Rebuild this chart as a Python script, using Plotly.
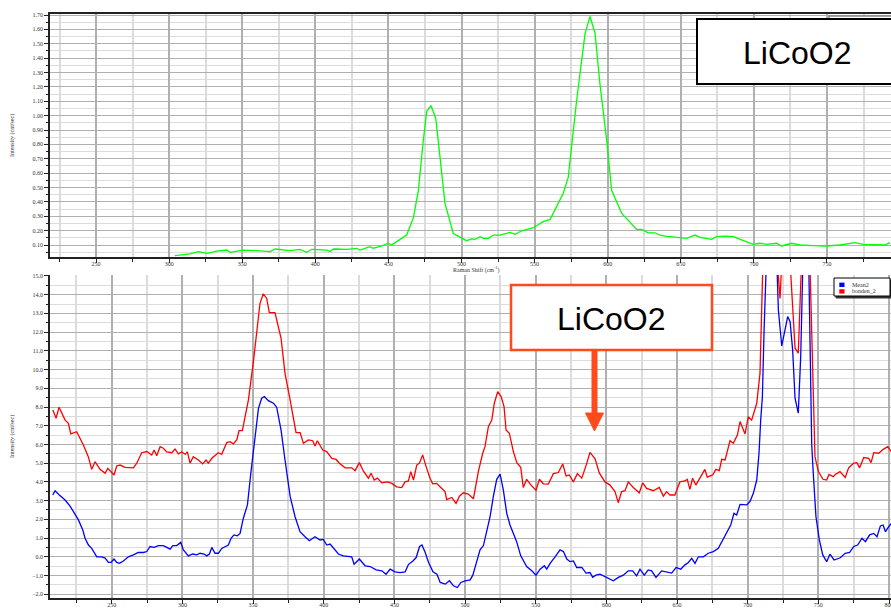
import plotly.graph_objects as go

# ---------------- top panel (green) ----------------
green_x = [304.0, 314.3, 320.0, 325.7, 332.5, 339.4, 341.7, 350.7, 360.5, 369.0, 372.4, 382.7,
           389.6, 394.1, 397.5, 407.7, 410.0, 412.4, 421.5, 428.3, 430.5, 437.4, 439.6, 445.4,
           449.9, 452.2, 458.0, 462.5, 467.1, 470.5, 473.9, 476.2, 479.1, 482.4, 485.3, 488.7,
           494.4, 503.5, 506.9, 509.3, 512.7, 515.0, 518.4, 521.8, 526.3, 533.2, 536.6, 541.2,
           549.1, 555.9, 560.6, 569.6, 573.0, 578.7, 584.5, 587.9, 591.3, 594.7, 599.3, 602.7,
           609.6, 619.8, 623.2, 627.8, 632.4, 635.8, 639.2, 643.7, 649.4, 654.0, 659.7, 663.1,
           671.1, 674.5, 680.3, 686.0, 691.6, 699.6, 704.2, 708.8, 715.6, 719.0, 725.8, 731.6,
           740.6, 749.7, 758.9, 769.1, 774.8, 784.0, 789.7, 793.1]
green_y = [0.026, 0.038, 0.054, 0.042, 0.058, 0.065, 0.049, 0.065, 0.061, 0.054, 0.072, 0.061,
           0.070, 0.049, 0.070, 0.065, 0.054, 0.072, 0.070, 0.077, 0.065, 0.088, 0.077, 0.093,
           0.112, 0.100, 0.139, 0.169, 0.29, 0.48, 0.83, 1.03, 1.07, 0.98, 0.71, 0.39,
           0.18, 0.130, 0.142, 0.139, 0.158, 0.146, 0.146, 0.169, 0.169, 0.188, 0.174, 0.199,
           0.22, 0.262, 0.278, 0.46, 0.57, 1.10, 1.57, 1.69, 1.575, 1.22, 0.83, 0.48,
           0.32, 0.209, 0.209, 0.185, 0.185, 0.169, 0.162, 0.158, 0.153, 0.146, 0.169, 0.153,
           0.139, 0.158, 0.162, 0.158, 0.135, 0.105, 0.112, 0.105, 0.112, 0.093, 0.112, 0.100,
           0.095, 0.093, 0.100, 0.116, 0.105, 0.105, 0.100, 0.116]

# ---------------- bottom panel ----------------
red_x = [208.3, 210.6, 212.7, 217.0, 219.3, 221.0, 225.2, 229.9, 233.4, 235.8, 238.2, 241.7,
         245.3, 247.2, 251.6, 253.5, 255.9, 259.4, 265.3, 267.7, 271.2, 274.8, 278.3, 280.0,
         281.8, 284.2, 286.5, 288.9, 292.5, 294.8, 297.1, 299.5, 301.9, 303.5, 305.4, 307.7,
         311.3, 314.4, 316.7, 318.4, 320.8, 323.1, 325.4, 327.8, 331.4, 333.7, 336.1, 338.5,
         340.1, 342.4, 346.7, 350.1, 354.9, 357.2, 359.6, 361.5, 365.5, 369.8, 372.6, 376.2,
         380.4, 383.3, 385.6, 389.1, 392.2, 393.8, 395.5, 399.3, 402.1, 405.7, 408.7, 411.1,
         415.1, 419.8, 422.2, 425.2, 428.1, 431.6, 433.5, 435.7, 438.0, 441.1, 445.1, 448.1,
         451.6, 455.2, 457.5, 459.9, 461.6, 463.5, 465.8, 467.7, 470.0, 472.4, 475.2, 477.1,
         479.9, 482.3, 485.8, 487.0, 490.6, 493.6, 496.0, 498.8, 502.3, 505.9, 509.4, 512.5,
         514.1, 516.5, 518.9, 520.7, 523.1, 525.5, 527.6, 529.0, 531.3, 534.2, 536.6, 539.4,
         541.2, 543.6, 546.7, 550.2, 552.6, 555.4, 558.9, 562.5, 566.0, 569.1, 571.5, 573.8,
         576.6, 579.5, 582.6, 585.6, 588.4, 592.0, 595.0, 599.0, 602.6, 606.1, 608.4, 610.8,
         613.2, 615.5, 619.0, 623.3, 625.7, 628.5, 633.2, 637.4, 640.3, 642.6, 645.0, 648.5,
         652.0, 655.6, 657.2, 659.1, 661.0, 663.3, 666.2, 669.7, 671.4, 675.2, 677.5, 679.9,
         681.6, 684.0, 687.5, 689.8, 692.7, 694.6, 698.1, 700.4, 702.8, 706.4, 708.7, 711.2,
         716.0, 720.6, 722.9, 724.8, 728.0, 729.8, 733.5, 735.8, 737.9, 741.0, 744.1, 746.5,
         747.6, 750.0, 753.3, 755.9, 757.5, 760.6, 762.0, 765.3, 769.0, 771.4, 775.0, 777.3,
         779.2, 782.1, 785.6, 787.3, 789.2, 792.7, 795.9, 799.1, 801.7]
red_y = [7.84, 7.40, 7.99, 7.30, 7.13, 6.56, 6.68, 5.97, 5.35, 4.67, 5.08, 4.67,
         4.46, 4.73, 4.37, 4.85, 4.90, 4.78, 4.75, 5.00, 5.56, 5.62, 5.44, 5.70,
         5.40, 5.88, 5.80, 5.60, 5.56, 5.76, 5.50, 5.60, 5.48, 5.60, 5.00, 5.35,
         5.17, 4.96, 5.17, 5.00, 5.26, 5.39, 5.56, 5.47, 6.10, 6.15, 6.03, 6.25,
         6.74, 6.74, 8.38, 10.34, 13.54, 14.04, 13.81, 13.04, 13.04, 11.67, 9.80, 8.38,
         6.63, 6.63, 6.06, 6.24, 6.20, 5.92, 6.20, 5.70, 5.62, 5.26, 5.20, 5.00,
         4.75, 4.75, 4.60, 5.03, 4.57, 4.20, 4.46, 4.10, 4.20, 3.95, 4.00, 3.92,
         3.74, 3.70, 4.00, 4.05, 4.55, 4.10, 4.90, 5.00, 5.44, 4.83, 4.20, 3.90,
         3.92, 3.74, 3.48, 3.06, 3.17, 2.85, 3.24, 3.42, 3.35, 3.10, 4.55, 5.53,
         5.88, 6.95, 7.30, 8.20, 8.82, 8.56, 8.02, 6.77, 6.60, 5.62, 5.03, 4.78,
         3.70, 4.14, 3.83, 3.56, 4.14, 3.90, 3.88, 4.44, 4.50, 4.96, 4.32, 4.37,
         4.00, 4.44, 4.20, 4.87, 5.58, 5.23, 4.48, 4.00, 3.83, 3.48, 2.89, 3.48,
         3.53, 4.00, 3.70, 3.42, 3.95, 3.65, 3.53, 3.70, 3.24, 3.48, 3.30, 3.30,
         4.00, 4.05, 4.14, 3.60, 4.20, 3.83, 4.20, 4.67, 4.26, 4.37, 4.67, 4.60,
         5.21, 5.17, 6.20, 6.06, 6.50, 7.22, 6.56, 7.48, 7.30, 8.20, 9.80, 17.0,
         22.0, 16.0, 13.80, 16.0, 22.0, 16.0, 11.14, 10.87, 16.0, 22.0, 15.5, 7.5,
         5.35, 4.55, 4.14, 4.10, 4.40, 4.28, 4.40, 4.55, 4.24, 4.75, 5.00, 5.03,
         4.75, 5.30, 5.26, 5.03, 5.56, 5.53, 5.74, 5.88, 5.60]

blue_x = [208.2, 209.9, 212.9, 217.0, 220.5, 224.1, 226.4, 229.5, 231.1, 233.5, 235.8, 239.4,
          242.9, 245.3, 247.6, 249.5, 251.6, 253.5, 255.4, 258.2, 261.8, 265.3, 268.8, 272.4,
          274.8, 277.1, 280.0, 283.0, 286.5, 289.0, 291.3, 293.2, 296.0, 298.8, 300.7, 304.2,
          307.3, 310.1, 312.5, 315.3, 317.2, 319.1, 320.8, 323.1, 325.5, 327.8, 330.2, 332.5,
          334.4, 336.5, 338.9, 340.8, 343.1, 346.0, 348.4, 350.9, 353.8, 356.1, 358.0, 360.8,
          364.4, 366.7, 369.8, 372.6, 376.2, 379.7, 383.2, 386.8, 389.8, 393.8, 397.4, 399.7,
          402.1, 404.5, 408.0, 410.4, 413.9, 419.8, 421.5, 425.2, 429.3, 432.8, 437.1, 441.1,
          444.1, 447.0, 450.5, 454.0, 457.6, 460.0, 463.1, 465.4, 467.8, 469.5, 471.8, 474.2,
          477.3, 480.1, 482.4, 486.0, 489.0, 491.8, 494.6, 497.0, 500.1, 503.6, 505.5, 507.8,
          510.6, 513.0, 515.3, 517.7, 520.0, 522.4, 524.8, 527.1, 529.5, 531.8, 534.2, 536.5,
          539.4, 543.6, 547.2, 550.2, 553.1, 556.1, 557.8, 560.2, 563.7, 567.2, 569.6, 572.0,
          574.3, 576.7, 579.0, 582.6, 585.6, 588.4, 590.3, 592.6, 595.5, 600.2, 604.9, 608.5,
          612.0, 615.5, 618.6, 621.4, 623.8, 626.8, 629.6, 632.0, 635.1, 639.1, 642.6, 646.2,
          649.3, 652.6, 655.6, 658.0, 660.4, 662.7, 665.1, 668.6, 672.1, 675.7, 679.2, 682.3,
          685.1, 688.0, 690.3, 692.2, 694.6, 697.0, 699.3, 701.6, 704.0, 706.4, 708.0, 709.2,
          710.4, 711.6, 712.8, 716.0, 720.5, 721.7, 724.1, 726.6, 728.3, 730.0, 731.8, 733.5,
          735.8, 737.5, 738.8, 741.0, 743.3, 745.3, 746.4, 748.3, 750.7, 753.1, 755.9, 758.2,
          761.1, 764.1, 765.5, 769.0, 772.1, 775.0, 777.8, 780.9, 783.3, 786.3, 789.2, 791.5,
          793.9, 795.8, 797.5, 799.8, 801.7]
blue_y = [3.30, 3.52, 3.30, 3.03, 2.71, 2.23, 1.97, 1.43, 0.99, 0.63, 0.45, 0.00,
          0.00, -0.07, -0.30, -0.30, -0.12, -0.30, -0.35, -0.22, 0.00, 0.10, 0.23, 0.23,
          0.28, 0.55, 0.50, 0.60, 0.60, 0.50, 0.41, 0.60, 0.60, 0.77, 0.37, 0.05,
          0.15, 0.10, 0.19, 0.15, 0.05, 0.15, 0.50, 0.19, 0.19, 0.45, 0.55, 0.63,
          0.99, 1.17, 1.12, 1.25, 2.06, 2.77, 4.46, 6.24, 7.93, 8.47, 8.56, 8.34,
          8.20, 7.99, 6.77, 5.17, 3.24, 2.14, 1.34, 1.07, 0.86, 1.07, 0.90, 0.93,
          0.63, 0.68, 0.37, 0.15, 0.05, 0.00, -0.40, -0.12, -0.48, -0.52, -0.70, -0.75,
          -0.93, -0.66, -0.80, -0.84, -0.80, -0.40, -0.22, -0.04, 0.55, 0.63, 0.23, -0.30,
          -0.80, -0.93, -1.37, -1.46, -1.28, -1.55, -1.64, -1.37, -1.28, -1.23, -0.98, -0.40,
          0.37, 0.60, 1.43, 2.14, 3.21, 4.14, 4.42, 3.56, 2.32, 1.70, 1.25, 0.81,
          0.05, -0.52, -0.75, -0.98, -0.66, -0.48, -0.66, -0.35, 0.00, 0.37, 0.28, -0.12,
          -0.26, -0.22, -0.57, -0.57, -0.87, -0.84, -1.10, -0.98, -0.93, -1.10, -1.28, -1.10,
          -0.98, -0.75, -0.75, -1.02, -0.66, -0.98, -0.70, -0.75, -1.10, -0.75, -0.80, -0.87,
          -0.57, -0.66, -0.43, -0.30, -0.08, -0.35, 0.00, 0.00, 0.19, 0.28, 0.45, 0.90,
          1.25, 1.70, 2.32, 2.23, 2.80, 2.77, 2.77, 2.95, 3.39, 4.10, 5.53, 7.30,
          8.56, 12.13, 16.0, 22.0, 16.0, 13.18, 11.26, 12.20, 12.83, 12.56, 11.05, 8.47,
          7.67, 10.69, 16.0, 22.0, 15.2, 6.00, 4.46, 2.14, 0.90, 0.10, -0.26, 0.14,
          -0.17, -0.08, -0.05, 0.19, 0.23, 0.55, 0.63, 0.99, 0.81, 1.17, 1.25, 1.07,
          1.65, 1.70, 1.34, 1.61, 1.78]

series_names = ["Mean2", "bonden_2"]
series_colors = ["#0000ff", "#ff0000"]
annot_text = "LiCoO2"

W, H = 891, 610
TICKFONT = dict(family="Liberation Serif", size=6, color="#333333")
MAJOR_GRID = "#b0b0b0"
MINOR_GRID = "#dcdcdc"
ORANGE = "#ff4a1c"

fig = go.Figure()
fig.add_trace(go.Scatter(x=green_x, y=green_y, mode="lines", line=dict(color="#00ff00", width=1.3),
                         xaxis="x", yaxis="y", showlegend=False))
fig.add_trace(go.Scatter(x=blue_x, y=blue_y, mode="lines", line=dict(color=series_colors[0], width=1.3),
                         xaxis="x2", yaxis="y2", showlegend=False, name=series_names[0]))
fig.add_trace(go.Scatter(x=red_x, y=red_y, mode="lines", line=dict(color=series_colors[1], width=1.3),
                         xaxis="x2", yaxis="y2", showlegend=False, name=series_names[1]))


def px(x):
    return x / W


def py(y):
    return (H - y) / H


def xaxis_common(rng, domain):
    return dict(range=rng, domain=domain, dtick=50, tick0=0, showgrid=True, gridcolor=MAJOR_GRID,
                gridwidth=1.5, zeroline=False, showline=True, linecolor="#222222", linewidth=1.5,
                ticks="outside", ticklen=4, tickcolor="#222222", tickfont=TICKFONT,
                ticklabeloverflow="allow", ticklabelstandoff=-4,
                minor=dict(dtick=25, tick0=0, ticks="outside", ticklen=3, tickcolor="#222222",
                           showgrid=True, gridcolor=MINOR_GRID, gridwidth=1.5))


def yaxis_common(rng, domain, dtick, mdtick, fmt, anchor):
    return dict(range=rng, domain=domain, dtick=dtick, tick0=0, tickformat=fmt, showgrid=True,
                gridcolor=MAJOR_GRID, gridwidth=1.2, zeroline=False, showline=True,
                linecolor="#222222", linewidth=1.5, ticks="outside", ticklen=4, tickcolor="#222222",
                tickfont=TICKFONT, anchor=anchor,
                minor=dict(dtick=mdtick, tick0=0, ticks="outside", ticklen=2, tickcolor="#222222",
                           showgrid=True, gridcolor=MINOR_GRID, gridwidth=1.2))


xa1 = xaxis_common([218.5, 793.8], [px(50), 1.0])
xa1.update(anchor="y", mirror=True)
xa2 = xaxis_common([206.3, 801.4], [px(50), 1.0])
xa2.update(anchor="y2")
ya1 = yaxis_common([0.0165, 1.707], [py(257), py(14)], 0.1, 0.05, ".2f", "x")
ya2 = yaxis_common([-2.2, 15.05], [py(598), py(275)], 1, 0.5, ".1f", "x2")

shapes = [
    # partially hidden legend of top panel
    dict(type="rect", xref="paper", yref="paper", x0=px(829), x1=px(897), y0=py(24), y1=py(16),
         line=dict(color="#888888", width=1.5), fillcolor="white", layer="above"),
    # top label box
    dict(type="rect", xref="paper", yref="paper", x0=px(697), x1=px(897), y0=py(84), y1=py(19),
         line=dict(color="black", width=2), fillcolor="white", layer="above"),
    # bottom label box
    dict(type="rect", xref="paper", yref="paper", x0=px(511), x1=px(712), y0=py(350), y1=py(285),
         line=dict(color=ORANGE, width=2.5), fillcolor="white", layer="above"),
    # arrow shaft
    dict(type="line", xref="paper", yref="paper", x0=px(594.5), x1=px(594.5), y0=py(351), y1=py(415),
         line=dict(color=ORANGE, width=6), layer="above"),
    # arrow head
    dict(type="path", xref="paper", yref="paper",
         path=f"M {px(585.5)} {py(413)} L {px(603.5)} {py(413)} L {px(594.5)} {py(431)} Z",
         line=dict(color=ORANGE, width=1), fillcolor=ORANGE, layer="above"),
    # legend box (bottom panel) with shadow
    dict(type="rect", xref="paper", yref="paper", x0=px(836), x1=px(892), y0=py(298), y1=py(280),
         line=dict(color="#333333", width=1), fillcolor="#333333", layer="above"),
    dict(type="rect", xref="paper", yref="paper", x0=px(834), x1=px(890), y0=py(296), y1=py(278),
         line=dict(color="black", width=1), fillcolor="white", layer="above"),
]

annotations = [
    dict(text=annot_text, xref="paper", yref="paper", x=px(797), y=py(53), showarrow=False,
         font=dict(family="Liberation Sans", size=32, color="black"), xanchor="center", yanchor="middle"),
    dict(text=annot_text, xref="paper", yref="paper", x=px(611), y=py(319), showarrow=False,
         font=dict(family="Liberation Sans", size=32, color="black"), xanchor="center", yanchor="middle"),
    dict(text="Intensity (cnt/sec)", xref="paper", yref="paper", x=px(12), y=py(136), textangle=-90,
         showarrow=False, font=TICKFONT, xanchor="center", yanchor="middle"),
    dict(text="Intensity (cnt/sec)", xref="paper", yref="paper", x=px(12), y=py(437), textangle=-90,
         showarrow=False, font=TICKFONT, xanchor="center", yanchor="middle"),
    dict(text="Raman Shift (cm<sup>-1</sup>)", xref="paper", yref="paper", x=px(476), y=py(269),
         showarrow=False, font=TICKFONT, xanchor="center", yanchor="middle"),
]

# manual legend entries (swatch + text)
for i, (name, col) in enumerate(zip(series_names, series_colors)):
    yc = 284.8 + 6.6 * i
    shapes.append(dict(type="rect", xref="paper", yref="paper", x0=px(839.3), x1=px(844.5),
                       y0=py(yc + 2.2), y1=py(yc - 2.2), line=dict(color=col, width=0),
                       fillcolor=col, layer="above"))
    annotations.append(dict(text=name, xref="paper", yref="paper", x=px(849.5), y=py(yc),
                            showarrow=False, xanchor="left", yanchor="middle",
                            font=dict(family="Liberation Serif", size=6, color="#333333")))

fig.update_layout(
    width=W, height=H, autosize=False,
    margin=dict(l=0, r=0, t=0, b=0, autoexpand=False),
    paper_bgcolor="white", plot_bgcolor="white",
    xaxis=xa1, yaxis=ya1, xaxis2=xa2, yaxis2=ya2,
    shapes=shapes, annotations=annotations,
    showlegend=False,
)

fig.write_html(
    "out.html",
    config={"displayModeBar": False},
    post_script="document.body.style.margin='0';document.body.style.padding='0';"
                "document.documentElement.style.overflow='hidden';",
)
